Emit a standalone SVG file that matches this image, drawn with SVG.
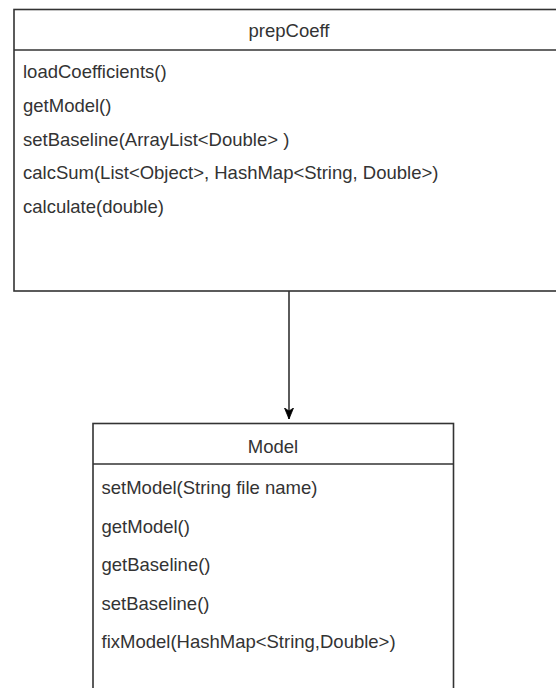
<svg xmlns="http://www.w3.org/2000/svg" width="556" height="688" viewBox="0 0 556 688">
  <style>
    .box { fill: #ffffff; stroke: #333333; stroke-width: 1.6; }
    .sep { stroke: #333333; stroke-width: 1.6; fill: none; }
    .title { font-family: "Liberation Sans", Arial, sans-serif; font-size: 18.5px; fill: #333333; text-anchor: middle; }
    .member { font-family: "Liberation Sans", Arial, sans-serif; font-size: 18.5px; fill: #333333; }
    .edge { stroke: #333333; stroke-width: 1.6; fill: none; }
  </style>
  <defs>
    <marker id="arrow" markerWidth="12" markerHeight="10" refX="11" refY="4.5" orient="auto" markerUnits="userSpaceOnUse">
      <path d="M0,0 L11,4.5 L0,9 L3,4.5 Z" fill="#000000" stroke="#000000" stroke-width="0.8"/>
    </marker>
  </defs>

  <!-- class prepCoeff -->
  <g id="prepCoeff">
    <rect class="box" x="14" y="9.5" width="560" height="281.5"/>
    <line class="sep" x1="14" y1="50" x2="574" y2="50"/>
    <text class="title" x="289" y="37">prepCoeff</text>
    <text class="member" x="23" y="78">loadCoefficients()</text>
    <text class="member" x="23" y="111.75">getModel()</text>
    <text class="member" x="23" y="145.5">setBaseline(ArrayList&lt;Double&gt; )</text>
    <text class="member" x="23" y="179.25">calcSum(List&lt;Object&gt;, HashMap&lt;String, Double&gt;)</text>
    <text class="member" x="23" y="213">calculate(double)</text>
  </g>

  <!-- class Model -->
  <g id="Model">
    <rect class="box" x="93" y="423.5" width="360.5" height="280"/>
    <line class="sep" x1="93" y1="464" x2="453.5" y2="464"/>
    <text class="title" x="273" y="453">Model</text>
    <text class="member" x="101.5" y="494">setModel(String file name)</text>
    <text class="member" x="101.5" y="532.5">getModel()</text>
    <text class="member" x="101.5" y="571">getBaseline()</text>
    <text class="member" x="101.5" y="609.5">setBaseline()</text>
    <text class="member" x="101.5" y="648">fixModel(HashMap&lt;String,Double&gt;)</text>
  </g>

  <!-- connectors -->
  <g id="connectors">
    <line class="edge" x1="289" y1="291" x2="289" y2="419" marker-end="url(#arrow)"/>
  </g>
</svg>
